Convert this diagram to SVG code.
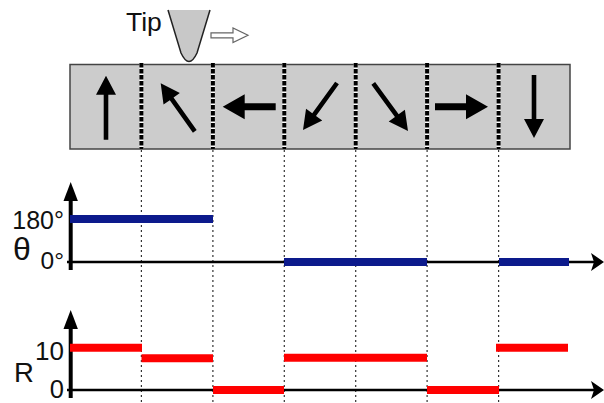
<svg xmlns="http://www.w3.org/2000/svg" width="604" height="403" viewBox="0 0 604 403">
<style>
text{font-family:"Liberation Sans",Arial,sans-serif;fill:#111}
.dot{stroke:#333;stroke-width:1.2;stroke-dasharray:2 3;fill:none}
.div1{stroke:#fff;stroke-width:4}
.div2{stroke:#000;stroke-width:4;stroke-dasharray:4.5 1.5}
.ax{stroke:#000;fill:none}
.blue{stroke:#0c1a8c;stroke-width:8}
.red{stroke:#ff0000;stroke-width:8}
.arr{fill:#000}
</style>
<rect width="604" height="403" fill="#fff"/>
<g id="guides">
<line class="dot" x1="141.4" y1="150" x2="141.4" y2="403"/>
<line class="dot" x1="212.9" y1="150" x2="212.9" y2="403"/>
<line class="dot" x1="284.3" y1="150" x2="284.3" y2="403"/>
<line class="dot" x1="355.7" y1="150" x2="355.7" y2="403"/>
<line class="dot" x1="427.1" y1="150" x2="427.1" y2="403"/>
<line class="dot" x1="498.6" y1="150" x2="498.6" y2="403"/>
</g>
<g id="sample">
<rect x="70" y="64.5" width="500" height="84.5" fill="#cccccc" stroke="#444" stroke-width="1.5"/>
<g>
<line class="div1" x1="141.4" y1="63" x2="141.4" y2="149"/><line class="div2" x1="141.4" y1="63" x2="141.4" y2="149"/>
<line class="div1" x1="212.9" y1="63" x2="212.9" y2="149"/><line class="div2" x1="212.9" y1="63" x2="212.9" y2="149"/>
<line class="div1" x1="284.3" y1="63" x2="284.3" y2="149"/><line class="div2" x1="284.3" y1="63" x2="284.3" y2="149"/>
<line class="div1" x1="355.7" y1="63" x2="355.7" y2="149"/><line class="div2" x1="355.7" y1="63" x2="355.7" y2="149"/>
<line class="div1" x1="427.1" y1="63" x2="427.1" y2="149"/><line class="div2" x1="427.1" y1="63" x2="427.1" y2="149"/>
<line class="div1" x1="498.6" y1="63" x2="498.6" y2="149"/><line class="div2" x1="498.6" y1="63" x2="498.6" y2="149"/>
</g>
<g class="arr">
<path d="M0,0 L-19,-10 L-19,-2.3 L-64,-2.3 L-64,2.3 L-19,2.3 L-19,10 Z" transform="translate(106,75.7) rotate(-90)"/>
<path d="M0,0 L-19,-10 L-19,-2.3 L-59,-2.3 L-59,2.3 L-19,2.3 L-19,10 Z" transform="translate(160.7,83.3) rotate(-125.3)"/>
<path d="M0,0 L-22,-12.5 L-22,-3.5 L-53,-3.5 L-53,3.5 L-22,3.5 L-22,12.5 Z" transform="translate(222.7,106.7) rotate(180)"/>
<path d="M0,0 L-19,-10 L-19,-2.3 L-58,-2.3 L-58,2.3 L-19,2.3 L-19,10 Z" transform="translate(303,130) rotate(125.9)"/>
<path d="M0,0 L-19,-10 L-19,-2.3 L-59,-2.3 L-59,2.3 L-19,2.3 L-19,10 Z" transform="translate(408,131) rotate(53.9)"/>
<path d="M0,0 L-22,-12.5 L-22,-3.5 L-53,-3.5 L-53,3.5 L-22,3.5 L-22,12.5 Z" transform="translate(488,106.7)"/>
<path d="M0,0 L-19,-10 L-19,-2.3 L-63,-2.3 L-63,2.3 L-19,2.3 L-19,10 Z" transform="translate(534,138) rotate(90)"/>
</g>
</g>
<g id="tip">
<path d="M168,10 L181,53 Q189,70 197,53 L210,10 Z" fill="#c8c8c8"/>
<path d="M168,10 L181,53 Q189,70 197,53 L210,10" fill="none" stroke="#222" stroke-width="1.5"/>
<text x="126" y="31" font-size="26.5">Tip</text>
<path d="M211,32.8 L233,32.8 L233,28 L248,35.3 L233,42.6 L233,37.8 L211,37.8 Z" fill="#fff" stroke="#666" stroke-width="1.2"/>
</g>
<g id="theta-plot">
<line class="ax" x1="70.7" y1="195" x2="70.7" y2="270" stroke-width="4"/>
<path d="M70.7,182 L63.5,201 L77.9,201 Z"/>
<line class="ax" x1="67" y1="262" x2="594" y2="262" stroke-width="2.5"/>
<path d="M604,262 L591,253 L594,262 L591,271 Z"/>
<line class="blue" x1="70" y1="219" x2="213" y2="219"/>
<line class="blue" x1="284" y1="262" x2="427" y2="262"/>
<line class="blue" x1="499" y1="262" x2="569" y2="262"/>
<text x="64" y="229" font-size="25" text-anchor="end">180°</text>
<text x="13" y="260" font-size="32">θ</text>
<text x="64" y="269" font-size="24.5" text-anchor="end">0°</text>
</g>
<g id="r-plot">
<line class="ax" x1="70.7" y1="323" x2="70.7" y2="398" stroke-width="4"/>
<path d="M70.7,310 L63.5,329 L77.9,329 Z"/>
<line class="ax" x1="67" y1="390" x2="594" y2="390" stroke-width="2.5"/>
<path d="M604,390 L591,381 L594,390 L591,399 Z"/>
<line class="red" x1="70" y1="347.7" x2="142" y2="347.7"/>
<line class="red" x1="141.5" y1="358.3" x2="213" y2="358.3"/>
<line class="red" x1="213" y1="390" x2="284" y2="390"/>
<line class="red" x1="284" y1="357.7" x2="427" y2="357.7"/>
<line class="red" x1="427" y1="390" x2="499" y2="390"/>
<line class="red" x1="496" y1="347.7" x2="568" y2="347.7"/>
<text x="64" y="360" font-size="26" text-anchor="end">10</text>
<text x="14" y="382" font-size="27.5">R</text>
<text x="64" y="398" font-size="25.5" text-anchor="end">0</text>
</g>
</svg>
